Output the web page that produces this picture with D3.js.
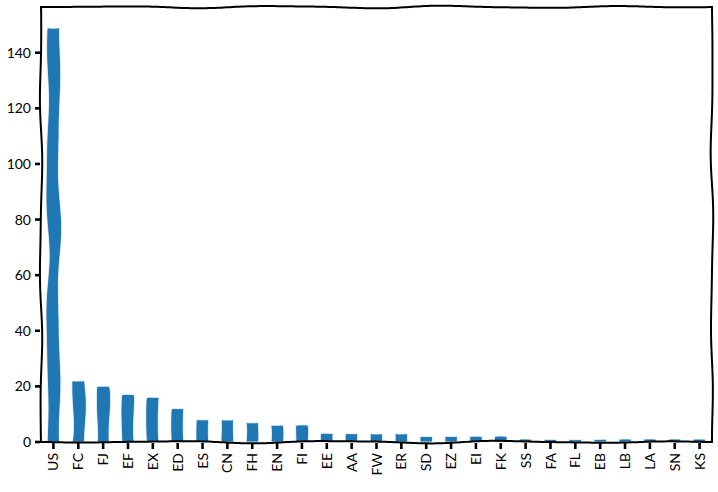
<!DOCTYPE html>
<html>
<head>
  <meta charset="UTF-8">
  <style>
body { margin: 0; background: #fff; }
svg text { font-family: Lato, "Open Sans", sans-serif; font-size: 14px; fill: #000; }
  </style>
</head>
<body>
<svg></svg>
<script src="https://d3js.org/d3.v7.min.js"></script>
<script>

let width = 718, height = 492;

// data
const categories = ["US","FC","FJ","EF","EX","ED","ES","CN","FH","EN","FI","EE","AA","FW",
                    "ER","SD","EZ","EI","FK","SS","FA","FL","EB","LB","LA","SN","KS"];
const counts = [149,22,20,17,16,12,8,8,7,6,6,3,3,3,3,2,2,2,2,1,1,1,1,1,1,1,1];
const yTicks = [0,20,40,60,80,100,120,140];

let margin = {left: 41, right: 6, top: 7, bottom: 50};

let svg = d3.select("svg")
    .attr("width", width)
    .attr("height", height)

let x = d3.scaleBand()
    .domain(categories)
    .range([margin.left, width - margin.right])
    .paddingInner(0.5)
    .paddingOuter(0.25)

let y = d3.scaleLinear()
    .domain([0, d3.max(counts) * 1.05])
    .range([height - margin.bottom, margin.top])

// hand drawn look: bend a polyline sideways with a slow wobble
function wobble(pts, amp, len, seed) {
    let out = []
    for (let i = 0; i < pts.length - 1; i++) {
        let [x0, y0] = pts[i], [x1, y1] = pts[i + 1]
        let dx = x1 - x0, dy = y1 - y0
        let dist = Math.hypot(dx, dy)
        let n = Math.max(2, Math.ceil(dist / 3))
        let nx = -dy / dist, ny = dx / dist
        let a = Math.min(amp, dist / 25)
        for (let k = 0; k <= n; k++) {
            let t = k / n, s = t * dist
            let env = Math.sqrt(Math.sin(Math.PI * t))
            let off = a * env * (0.75 * Math.sin(2 * Math.PI * s / len + seed + i * 1.3)
                               + 0.25 * Math.sin(2 * Math.PI * s / (len * 0.55) + seed * 1.7 + i))
            out.push([x0 + dx * t + nx * off, y0 + dy * t + ny * off])
        }
    }
    return d3.line()(out)
}

let L = margin.left, R = width - margin.right, T = margin.top, B = height - margin.bottom
let spines = [
    [[L, B], [R, B]],
    [[L, T], [R, T]],
    [[L, B], [L, T]],
    [[R, B], [R, T]]
].map((s, i) => wobble(s, 1.5, 170, i * 2.1))

// white halo under the frame
svg.append("g").selectAll("path")
    .data(spines)
    .enter()
    .append("path")
    .attr("d", d => d)
    .attr("fill", "none")
    .attr("stroke", "#fff").attr("stroke-width", 5).attr("stroke-linecap", "round")

// bars
svg.append("g").selectAll("path")
    .data(categories)
    .enter()
    .append("path")
    .attr("d", (d, i) => {
        let x0 = x(d), x1 = x(d) + x.bandwidth()
        let y0 = y(0), y1 = y(counts[i])
        return wobble([[x0, y0], [x0, y1], [x1, y1], [x1, y0]], 2, 150, i * 0.9) + "Z"
    })
    .attr("fill", "#1f77b4")
    .attr("stroke", "#fff")
    .attr("stroke-width", 0.8)
    .attr("stroke-linejoin", "round")

// frame
svg.append("g").selectAll("path")
    .data(spines)
    .enter()
    .append("path")
    .attr("d", d => d)
    .attr("fill", "none")
    .attr("stroke", "#000").attr("stroke-width", 2).attr("stroke-linecap", "round")

// y ticks
let yAxis = svg.append("g")
yAxis.selectAll("line")
    .data(yTicks)
    .enter()
    .append("line")
    .attr("x1", L - 6).attr("x2", L - 1)
    .attr("y1", d => y(d)).attr("y2", d => y(d))
    .attr("stroke", "#000").attr("stroke-width", 2.6)
yAxis.selectAll("text")
    .data(yTicks)
    .enter()
    .append("text")
    .attr("x", L - 10)
    .attr("y", d => y(d))
    .attr("dy", "0.36em")
    .attr("text-anchor", "end")
    .text(d => d)

// x ticks
let xAxis = svg.append("g")
xAxis.selectAll("line")
    .data(categories)
    .enter()
    .append("line")
    .attr("x1", d => x(d) + x.bandwidth() / 2).attr("x2", d => x(d) + x.bandwidth() / 2)
    .attr("y1", B + 1).attr("y2", B + 7)
    .attr("stroke", "#000").attr("stroke-width", 2.6)
xAxis.selectAll("text")
    .data(categories)
    .enter()
    .append("text")
    .attr("transform", d => "translate(" + (x(d) + x.bandwidth() / 2) + "," + (B + 11) + ") rotate(-90)")
    .attr("dy", "0.36em")
    .attr("text-anchor", "end")
    .text(d => d)

</script>
</body>
</html>
